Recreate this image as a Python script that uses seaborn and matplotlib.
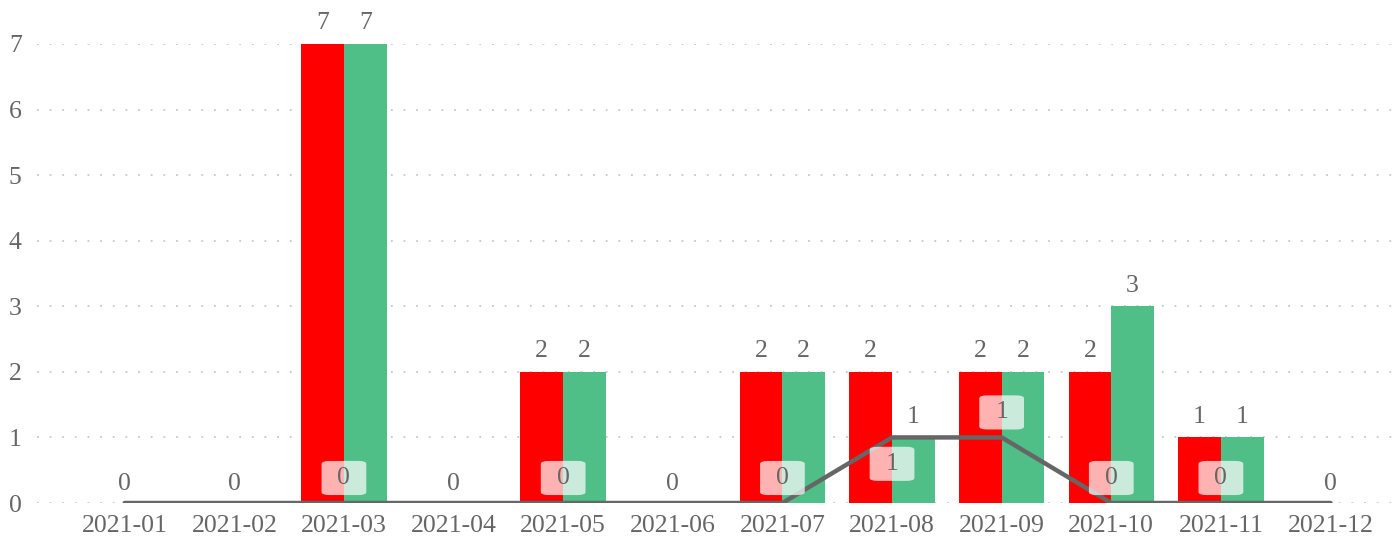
import numpy as np
import pandas as pd
import matplotlib
matplotlib.use("Agg")
import matplotlib.pyplot as plt
import seaborn as sns

months = ["2021-01", "2021-02", "2021-03", "2021-04", "2021-05", "2021-06",
          "2021-07", "2021-08", "2021-09", "2021-10", "2021-11", "2021-12"]
series_red = [0, 0, 7, 0, 2, 0, 2, 2, 2, 2, 1, 0]
series_green = [0, 0, 7, 0, 2, 0, 2, 1, 2, 3, 1, 0]
series_line = [0, 0, 0, 0, 0, 0, 0, 1, 1, 0, 0, 0]
y_ticks = [0, 1, 2, 3, 4, 5, 6, 7]

RED = "#ff0000"
GREEN = "#4fbf87"
LINE = "#666666"
TXT = "#666666"
FS = 18.5

sns.set_theme(style="white")
plt.rcParams["font.family"] = ["Liberation Serif", "DejaVu Serif"]

df = pd.DataFrame({
    "month": months * 2,
    "value": series_red + series_green,
    "series": ["red"] * 12 + ["green"] * 12,
})

fig = plt.figure(figsize=(13.93, 5.42), dpi=100)
ax = fig.add_axes([37 / 1393, 1 - 503 / 542, (1393 - 37) / 1393, (503 - 44) / 542])

sns.barplot(data=df, x="month", y="value", hue="series", order=months,
            hue_order=["red", "green"], palette=[RED, GREEN], width=0.78,
            dodge=True, ax=ax, legend=False, saturation=1, edgecolor="none",
            linewidth=0)

xpos = np.arange(len(months))
sns.lineplot(x=xpos, y=series_line, ax=ax, color=LINE, linewidth=3.2,
             legend=False, zorder=4)

ax.set_xlim(-0.8, 11.57)
ax.set_ylim(0, 7)
ax.set_yticks(y_ticks)
ax.set_xlabel("")
ax.set_ylabel("")
for s in ax.spines.values():
    s.set_visible(False)
ax.tick_params(axis="both", length=0, labelsize=FS, colors=TXT)
ax.tick_params(axis="y", pad=11)
ax.tick_params(axis="x", pad=9)
ax.yaxis.grid(True, color="#c8c8c8", linestyle=(0, (1, 6)), linewidth=1.3)
ax.set_axisbelow(True)

# bar labels
for cont, vals in zip(ax.containers, [series_red, series_green]):
    labels = [str(v) if v != 0 else "" for v in vals]
    ax.bar_label(cont, labels=labels, padding=7, fontsize=FS, color=TXT)

# single "0" label for empty categories
for i, (r, g) in enumerate(zip(series_red, series_green)):
    if r == 0 and g == 0:
        ax.annotate("0", (i, 0), xytext=(0, 6), textcoords="offset points",
                    ha="center", va="bottom", fontsize=FS, color=TXT,
                    annotation_clip=False)

# line labels in boxes (only where bars exist)
for i, v in enumerate(series_line):
    if series_red[i] == 0 and series_green[i] == 0:
        continue
    below = (i == 7)
    off = -19 if below else 18
    ax.annotate(str(v), (i, v), xytext=(0, off), textcoords="offset points",
                ha="center", va="center", fontsize=FS, color=TXT, zorder=6,
                bbox=dict(boxstyle="round,pad=0.62,rounding_size=0.3",
                          fc="white", ec="none", alpha=0.7,
                          mutation_aspect=0.38))

fig.savefig("out.png", dpi=100)
